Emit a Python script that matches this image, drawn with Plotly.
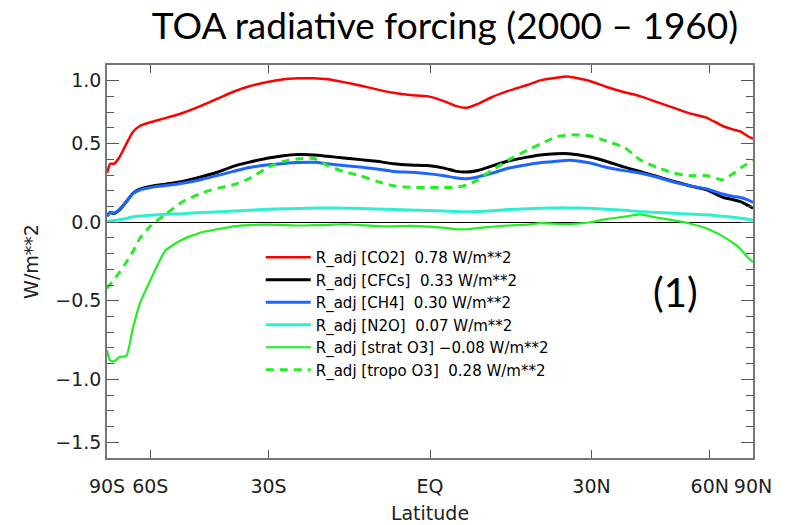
import numpy as np
import plotly.graph_objects as go

# ---- data (latitude in degrees, forcing in W/m**2) ----
LAT = [-90, -82, -78, -74, -70, -67, -64, -60, -55, -50, -45, -41, -37.5, -34, -30, -27,
       -24, -21, -18.5, -15.5, -12.5, -9.5, -6.5, -3.5, -0.5, 2.5, 4.5, 6.5, 8.5, 11, 14,
       17.5, 20, 23, 25.5, 29.5, 33, 37, 40.5, 44.5, 49, 53.5, 59, 65, 70, 74, 79, 90]

CO2 = [0.313, 0.372, 0.372, 0.415, 0.500, 0.572, 0.612, 0.636, 0.662, 0.695, 0.742, 0.788,
       0.830, 0.865, 0.893, 0.909, 0.915, 0.916, 0.909, 0.891, 0.870, 0.845, 0.823, 0.809,
       0.802, 0.770, 0.740, 0.728, 0.752, 0.795, 0.835, 0.873, 0.902, 0.919, 0.926, 0.900,
       0.862, 0.827, 0.802, 0.765, 0.727, 0.692, 0.664, 0.612, 0.589, 0.577, 0.550, 0.530]

CFCS = [0.040, 0.062, 0.055, 0.078, 0.132, 0.182, 0.210, 0.228, 0.242, 0.259, 0.289, 0.319,
        0.355, 0.382, 0.408, 0.423, 0.430, 0.428, 0.419, 0.409, 0.398, 0.387, 0.372, 0.364,
        0.360, 0.344, 0.325, 0.319, 0.329, 0.357, 0.389, 0.414, 0.428, 0.436, 0.436, 0.416,
        0.388, 0.350, 0.323, 0.292, 0.260, 0.232, 0.206, 0.158, 0.143, 0.131, 0.110, 0.089]

CH4 = [0.036, 0.062, 0.058, 0.082, 0.132, 0.182, 0.205, 0.221, 0.233, 0.248, 0.272, 0.298,
       0.323, 0.348, 0.365, 0.374, 0.380, 0.381, 0.372, 0.360, 0.351, 0.338, 0.323, 0.317,
       0.309, 0.296, 0.283, 0.277, 0.288, 0.311, 0.343, 0.366, 0.378, 0.387, 0.394, 0.378,
       0.350, 0.328, 0.313, 0.288, 0.255, 0.232, 0.211, 0.179, 0.164, 0.157, 0.143, 0.126]

N2O = [0.004, 0.008, 0.011, 0.015, 0.024, 0.034, 0.040, 0.045, 0.050, 0.054, 0.062, 0.066,
       0.071, 0.076, 0.082, 0.085, 0.087, 0.089, 0.091, 0.089, 0.087, 0.084, 0.081, 0.077,
       0.074, 0.072, 0.068, 0.066, 0.068, 0.073, 0.080, 0.086, 0.089, 0.091, 0.091, 0.088,
       0.083, 0.076, 0.068, 0.062, 0.057, 0.052, 0.047, 0.038, 0.032, 0.025, 0.020, 0.013]

STRAT_O3 = [-0.815, -0.879, -0.886, -0.858, -0.850, -0.680, -0.520, -0.370, -0.180, -0.110,
            -0.064, -0.044, -0.026, -0.018, -0.015, -0.018, -0.021, -0.019, -0.017, -0.013,
            -0.018, -0.025, -0.026, -0.023, -0.028, -0.035, -0.045, -0.045, -0.038, -0.029,
            -0.021, -0.015, -0.006, -0.010, -0.012, -0.002, 0.019, 0.035, 0.050, 0.030, 0.012,
            -0.008, -0.040, -0.090, -0.134, -0.170, -0.220, -0.255]

TROPO_O3 = [-0.421, -0.395, -0.365, -0.320, -0.253, -0.190, -0.105, -0.025, 0.050, 0.130,
            0.185, 0.217, 0.238, 0.278, 0.350, 0.387, 0.403, 0.405, 0.360, 0.322, 0.296,
            0.260, 0.232, 0.222, 0.221, 0.221, 0.221, 0.236, 0.268, 0.330, 0.395, 0.458,
            0.497, 0.543, 0.555, 0.552, 0.517, 0.476, 0.398, 0.350, 0.313, 0.296, 0.296,
            0.270, 0.310, 0.345, 0.370, 0.390]

NAMES = ["R_adj [CO2]\u00a0\u00a00.78 W/m**2",
         "R_adj [CFCs]\u00a0\u00a00.33 W/m**2",
         "R_adj [CH4]\u00a0\u00a00.30 W/m**2",
         "R_adj [N2O]\u00a0\u00a00.07 W/m**2",
         "R_adj [strat O3] \u22120.08 W/m**2",
         "R_adj [tropo O3]\u00a0\u00a00.28 W/m**2"]

XTICK_LAT = [-90, -60, -30, 0, 30, 60, 90]
XTICK_TXT = ["90S", "60S", "30S", "EQ", "30N", "60N", "90N"]
YTICK_VAL = [0.9, 0.5, 0.0, -0.5, -1.0, -1.4]
YTICK_TXT = ["1.0", "0.5", "0.0", "\u22120.5", "\u22121.0", "\u22121.5"]

# ---- figure ----
xs = np.sin(np.radians(LAT))  # area-weighted (sine of latitude) axis

series = [
    (CO2, "#ff0000", 2.5, "solid"),
    (CFCS, "#000000", 3, "solid"),
    (CH4, "#1e64ff", 3, "solid"),
    (N2O, "#2ef0d0", 3, "solid"),
    (STRAT_O3, "#22ee22", 2.2, "solid"),
    (TROPO_O3, "#22ee22", 3, "8px,6px"),
]

fig = go.Figure()
for i, (vals, col, w, dash) in enumerate(series):
    fig.add_trace(go.Scatter(
        x=xs, y=vals, mode="lines", name=NAMES[i], legendgroup=str(i),
        line=dict(color=col, width=w, dash=dash, shape="spline", smoothing=0.5),
    ))

FONT = "DejaVu Sans"
minor_vals = [round(v, 2) for v in np.arange(-1.4, 0.95, 0.1)
              if not any(abs(v - t) < 1e-6 for t in YTICK_VAL)]

fig.update_layout(
    width=786, height=525,
    margin=dict(l=107, r=33, t=65, b=67, autoexpand=False),
    paper_bgcolor="white", plot_bgcolor="white",
    font=dict(family=FONT, color="#222222"),
    title=dict(text="TOA radiative forcing (2000 \u2013 1960)",
               font=dict(family="Lato", size=37, color="black"),
               xref="container", x=445 / 786, xanchor="center",
               yref="container", y=1 - 26 / 525, yanchor="middle"),
    showlegend=True,
    legend=dict(x=0.238, y=(458 - 241) / 393, xanchor="left", yanchor="top",
                bgcolor="rgba(0,0,0,0)", font=dict(family=FONT, size=15, color="black"),
                tracegroupgap=0, itemwidth=45),
    xaxis=dict(range=[-1, 1], tickmode="array", automargin=False,
               tickvals=np.sin(np.radians(XTICK_LAT)), ticktext=XTICK_TXT,
               ticks="inside", ticklen=8, tickwidth=1.3, tickcolor="#555555",
               showline=True, linecolor="#777777", linewidth=1.5, mirror="ticks",
               showgrid=False, zeroline=False,
               tickfont=dict(family=FONT, size=19, color="#222222"),
               ticklabelstandoff=10,
               title=dict(text="Latitude", font=dict(family=FONT, size=19, color="#222222"),
                          standoff=11)),
    yaxis=dict(range=[-1.5, 1.0], tickmode="array", tickvals=YTICK_VAL, ticktext=YTICK_TXT,
               automargin=False,
               ticks="inside", ticklen=12, tickwidth=1.3, tickcolor="#555555",
               minor=dict(tickmode="array", tickvals=minor_vals, ticks="inside",
                          ticklen=7, tickwidth=1.3, tickcolor="#555555"),
               showline=True, linecolor="#777777", linewidth=1.5, mirror="ticks",
               showgrid=False, zeroline=True, zerolinecolor="black", zerolinewidth=1,
               tickfont=dict(family=FONT, size=19, color="#222222"),
               ticklabelstandoff=0,
               title=dict(text="W/m**2", font=dict(family=FONT, size=19, color="#222222"),
                          standoff=12)),
    annotations=[dict(text="(1)", xref="paper", yref="paper",
                      x=(675 - 107) / 646, y=(458 - 292) / 393,
                      xanchor="center", yanchor="middle", showarrow=False,
                      font=dict(family="Lato", size=40, color="black"))],
)

fig.write_html("out.html", config={"displayModeBar": False},
               post_script="document.body.style.margin='0px';")
